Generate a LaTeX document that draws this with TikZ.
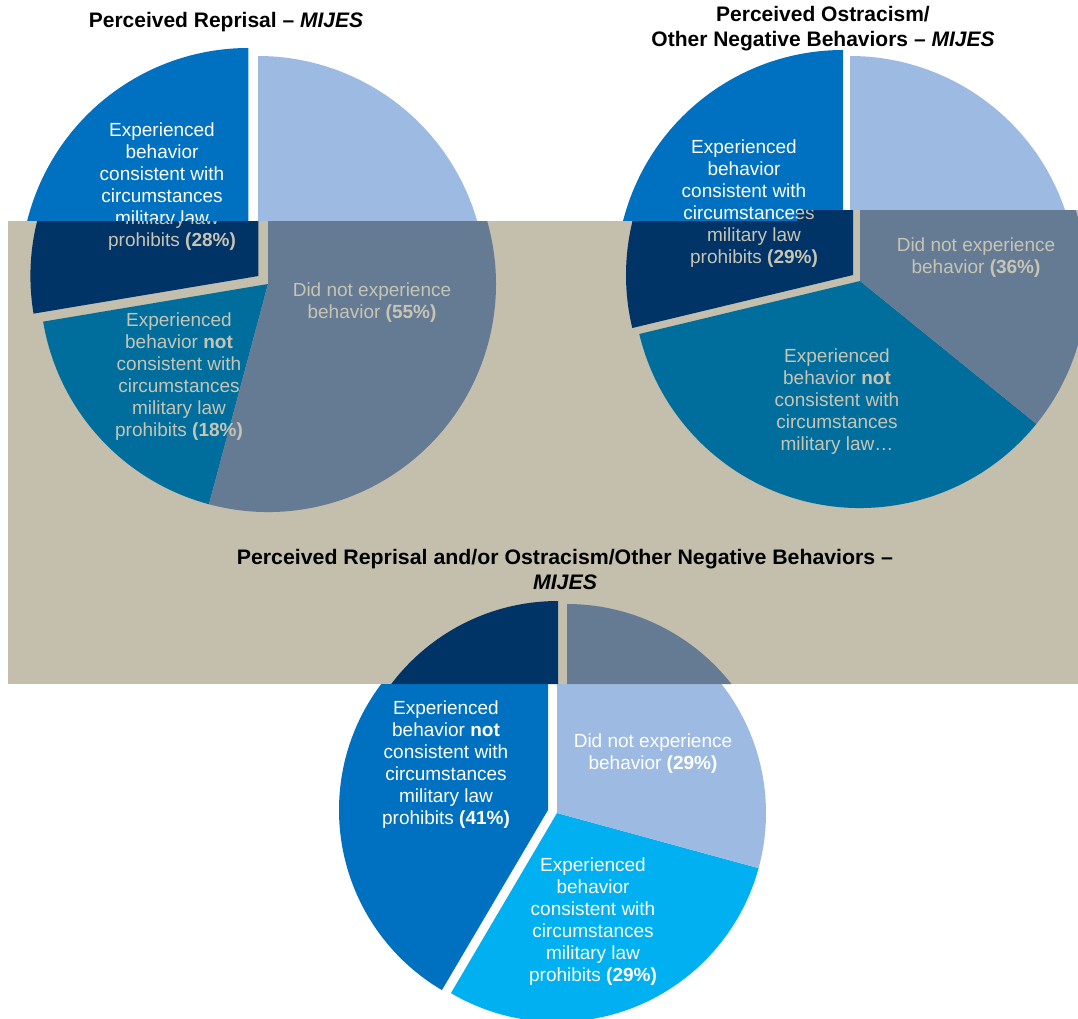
\documentclass[tikz,border=0pt]{standalone}
\usepackage{fontspec}
\setmainfont{Liberation Sans}
\definecolor{mblue}{HTML}{0070C0}
\definecolor{lblue}{HTML}{9CBAE2}
\definecolor{cyanb}{HTML}{00B0F0}
\definecolor{navyb}{HTML}{003366}
\definecolor{slateb}{HTML}{657B94}
\definecolor{tealb}{HTML}{006E9C}
\definecolor{tanbg}{HTML}{C4BEAC}
\definecolor{lbl}{HTML}{C8C4B4}
% #1 vertex, #2 radius, #3 start angle, #4 end angle (screen, counterclockwise)
\newcommand\pieslice[4]{#1 -- ++({-(#3)}:#2) arc[start angle={-(#3)}, end angle={-(#4)}, radius=#2] -- cycle}
\newcommand\tanclip{\clip (8,221) rectangle (1078,684) (797,210) rectangle (1078,222);}
\begin{document}
\begin{tikzpicture}[x=1pt,y=-1pt,
  lab/.style={align=center, font=\fontsize{19}{22}\selectfont, inner sep=0pt},
  wlab/.style={lab, text=white},
  tlab/.style={lab, text=lbl},
  ttl/.style={align=center, font=\fontsize{21}{25}\selectfont\bfseries, inner sep=0pt, text=black}]
\clip (0,0) rectangle (1078,1018);
\fill[white] (0,0) rectangle (1078,1018);

% ---------- white-background renders ----------
% Pie 1
\fill[mblue] \pieslice{(248.4,276)}{228}{90}{189.5};
\fill[lblue] \pieslice{(258,284)}{228}{255}{450};
\node[wlab] (p1wa) at (162,186.5) {Experienced\\behavior\\consistent with\\circumstances\\military law\\prohibits \textbf{(28\%)}};
% Pie 2
\fill[mblue] \pieslice{(843,277)}{227}{90}{193.5};
\fill[lblue] \pieslice{(850,283)}{227}{321}{450};
\node[wlab] (p2wa) at (744,203.5) {Experienced\\behavior\\consistent with\\circumstances\\military law\\prohibits \textbf{(29\%)}};
% Pie 3
\fill[mblue] \pieslice{(548,810)}{209}{90}{239.5};
\fill[cyanb] \pieslice{(557,813)}{209}{239.5}{344.7};
\fill[lblue] \pieslice{(557,813)}{209}{344.7}{450};
\node[wlab] (p3wa) at (446,765) {Experienced\\behavior \textbf{not}\\consistent with\\circumstances\\military law\\prohibits \textbf{(41\%)}};
\node[wlab] (p3wb) at (653,754) {Did not experience\\behavior \textbf{(29\%)}};
\node[wlab] (p3wc) at (593,921.5) {Experienced\\behavior\\consistent with\\circumstances\\military law\\prohibits \textbf{(29\%)}};

% ---------- titles on white ----------
\node[ttl] (t1) at (226,22) {Perceived Reprisal -- \textit{MIJES}};
\node[ttl] (t2) at (823,29) {Perceived Ostracism/\\Other Negative Behaviors -- \textit{MIJES}};

% ---------- tan band ----------
\fill[tanbg] (8,221) rectangle (1078,684);
\fill[tanbg] (797,210) rectangle (1078,222);

\begin{scope}
\tanclip
% Pie 1 (tan render)
\fill[navyb] \pieslice{(258.4,276)}{228}{90}{189.5};
\fill[tealb] \pieslice{(268,284)}{228}{189.5}{255};
\fill[slateb] \pieslice{(268,284)}{228}{255}{450};
\node[tlab] (p1ta) at (172,186.5) {Experienced\\behavior\\consistent with\\circumstances\\military law\\prohibits \textbf{(28\%)}};
\node[tlab] (p1tb) at (372,302.5) {Did not experience\\behavior \textbf{(55\%)}};
\node[tlab] (p1tc) at (179,376.5) {Experienced\\behavior \textbf{not}\\consistent with\\circumstances\\military law\\prohibits \textbf{(18\%)}};
% Pie 2 (tan render)
\fill[navyb] \pieslice{(853,275)}{227}{90}{193.5};
\fill[tealb] \pieslice{(860,281)}{227}{193.5}{321};
\fill[slateb] \pieslice{(860,281)}{227}{321}{450};
\node[tlab] (p2ta) at (754,203.5) {Experienced\\behavior\\consistent with\\circumstances\\military law\\prohibits \textbf{(29\%)}};
\node[tlab] (p2tb) at (976,257.5) {Did not experience\\behavior \textbf{(36\%)}};
\node[tlab] (p2tc) at (837,401.5) {Experienced\\behavior \textbf{not}\\consistent with\\circumstances\\military law…};
% Pie 3 (tan render)
\fill[navyb] \pieslice{(558,810)}{209}{90}{239.5};
\fill[tealb] \pieslice{(567,813)}{209}{239.5}{344.7};
\fill[slateb] \pieslice{(567,813)}{209}{344.7}{450};
\end{scope}

\node[ttl, xscale=1.015] (t3) at (565,569) {Perceived Reprisal and/or Ostracism/Other Negative Behaviors --\\\textit{MIJES}};
\end{tikzpicture}
\end{document}
